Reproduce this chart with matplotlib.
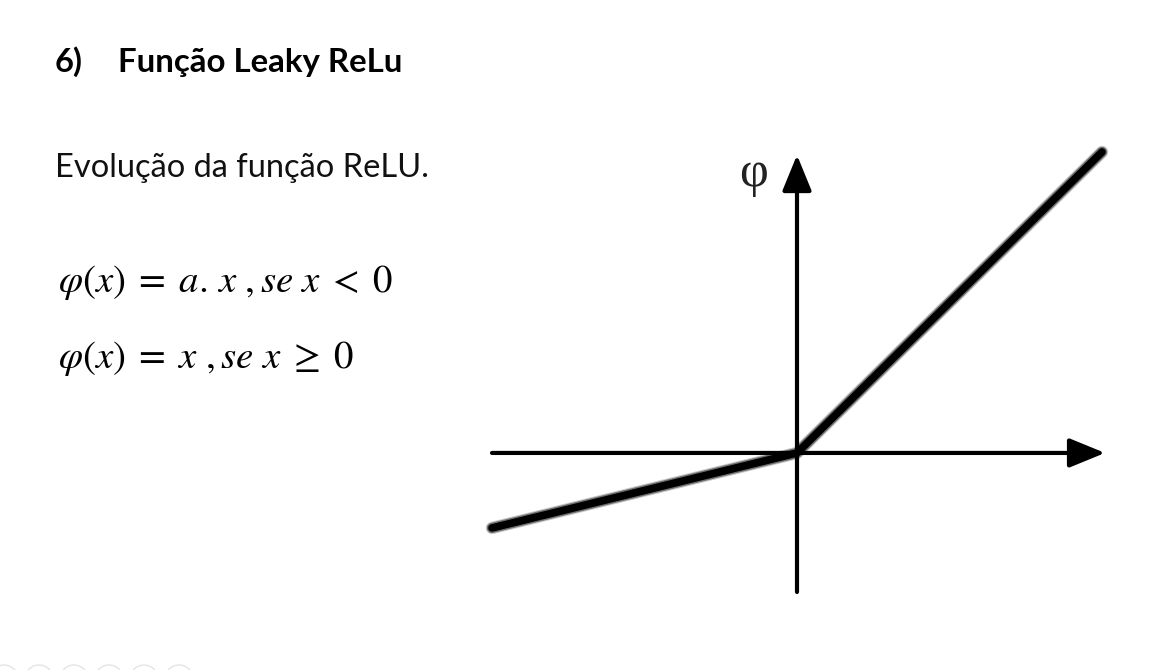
import matplotlib
matplotlib.use("Agg")
import matplotlib.pyplot as plt
from matplotlib.patches import Circle

# Dados: pontos da função Leaky ReLU (a ~ 0.25)
x_pts = [-1.0, 0.0, 1.0]
phi_pts = [-0.246, 0.0, 0.987]

# extensão dos eixos (em unidades de dados)
x_axis = (-1.0, 1.01)
y_axis = (-0.456, 0.977)

titulo_num = "6)"
titulo = "Função Leaky ReLu"
subtitulo = "Evolução da função ReLU."
formula1 = r"$\varphi(x)\;=\;a.\,x\ ,se\ x\;<\;0$"
formula2 = r"$\varphi(x)\;=\;x\ ,se\ x\;\geq\;0$"

W, H = 1169, 670
plt.rcParams['mathtext.fontset'] = 'stix'

fig = plt.figure(figsize=(W / 100, H / 100), dpi=100)
fig.patch.set_facecolor('white')


def fx(px):
    return px / W


def fy(py):
    return (H - py) / H


# textos do slide
fig.text(fx(55), fy(72), titulo_num, fontsize=23.5, fontweight='bold',
         family='Lato', va='baseline', color='black')
fig.text(fx(118), fy(72), titulo, fontsize=23.8, fontweight='bold',
         family='Lato', va='baseline', color='black')
fig.text(fx(55), fy(177), subtitulo, fontsize=23.5, family='Lato',
         va='baseline', color='#111111')
fig.text(fx(58), fy(292), formula1, fontsize=28, va='baseline')
fig.text(fx(58), fy(368), formula2, fontsize=28, va='baseline')

# círculos decorativos no rodapé
for i in range(6):
    c = Circle(((4 + 35 * i) / 100, (H - 679) / 100), 0.14,
               transform=fig.dpi_scale_trans, fill=False,
               edgecolor='#e4e4e4', lw=1)
    fig.patches.append(c)

# gráfico
ax = fig.add_axes([fx(492), fy(592), (1102 - 492) / W, (592 - 148) / H])
ax.set_xlim(-1.0, 1.0)
ax.set_ylim(-0.456, 1.0)
ax.axis('off')

estilo = '-|>,head_length=1.1,head_width=0.45'
ax.annotate('', xy=(x_axis[1], 0), xytext=(x_axis[0], 0),
            arrowprops=dict(arrowstyle=estilo, mutation_scale=20, lw=3,
                            color='black', shrinkA=0, shrinkB=0),
            annotation_clip=False)
ax.annotate('', xy=(0, y_axis[1]), xytext=(0, y_axis[0]),
            arrowprops=dict(arrowstyle=estilo, mutation_scale=20, lw=3,
                            color='black', shrinkA=0, shrinkB=0),
            annotation_clip=False)

# linha grossa com borda borrada
for lw, al in [(9, 0.2), (7.5, 0.45), (5.5, 1.0)]:
    ax.plot(x_pts, phi_pts, color='black', lw=lw, alpha=al,
            solid_capstyle='round', solid_joinstyle='round', clip_on=False)

ax.text(-0.144, 0.914, 'φ', fontsize=36, family='Liberation Serif',
        ha='center', va='center', color='#222222')

fig.savefig('out.png', dpi=100)
